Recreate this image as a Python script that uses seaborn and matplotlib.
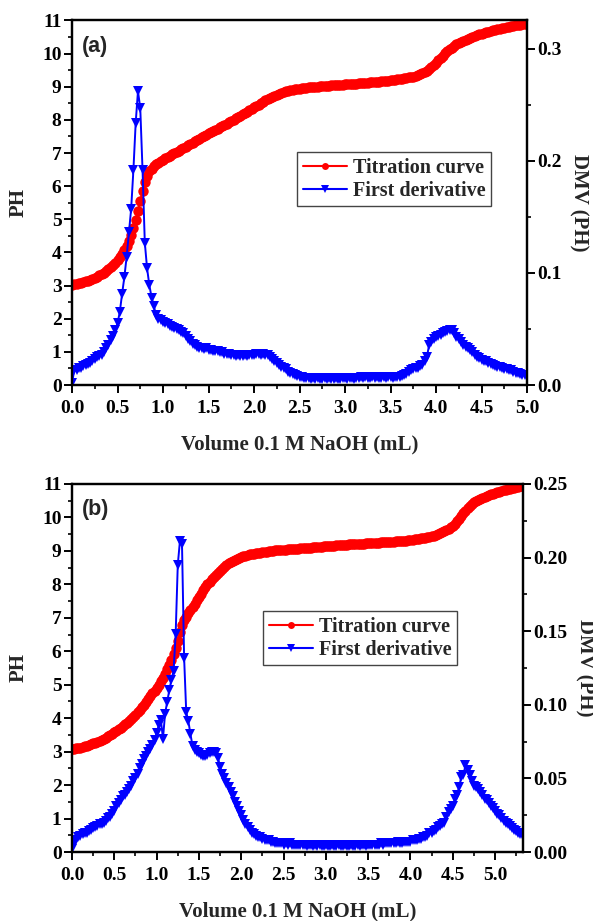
import numpy as np
import pandas as pd
import matplotlib
matplotlib.use("Agg")
import matplotlib.pyplot as plt
import seaborn as sns
from matplotlib.lines import Line2D
from matplotlib.ticker import MultipleLocator, FormatStrFormatter

# Titrant added between readings (mL)
STEP = 0.025

# (a) pH readings, one every STEP mL from 0.0 to 5.0 mL
ph_a = [
    3.03, 3.04, 3.05, 3.07, 3.09, 3.11, 3.13, 3.15,
    3.18, 3.21, 3.24, 3.27, 3.31, 3.35, 3.39, 3.44,
    3.49, 3.55, 3.61, 3.68, 3.76, 3.85, 3.95, 4.07,
    4.20, 4.36, 4.54, 4.75, 4.98, 5.25, 5.55, 5.85,
    6.12, 6.32, 6.45, 6.53, 6.60, 6.66, 6.71, 6.76,
    6.80, 6.84, 6.88, 6.92, 6.96, 6.99, 7.03, 7.07,
    7.11, 7.15, 7.19, 7.23, 7.27, 7.31, 7.35, 7.39,
    7.43, 7.47, 7.51, 7.55, 7.59, 7.63, 7.67, 7.71,
    7.74, 7.78, 7.82, 7.86, 7.89, 7.93, 7.97, 8.01,
    8.05, 8.09, 8.13, 8.17, 8.21, 8.25, 8.29, 8.33,
    8.38, 8.42, 8.46, 8.50, 8.55, 8.59, 8.63, 8.67,
    8.70, 8.73, 8.76, 8.79, 8.82, 8.84, 8.86, 8.88,
    8.90, 8.91, 8.92, 8.93, 8.94, 8.95, 8.96, 8.97,
    8.98, 8.98, 8.99, 9.00, 9.00, 9.01, 9.02, 9.02,
    9.03, 9.03, 9.04, 9.04, 9.05, 9.05, 9.06, 9.06,
    9.07, 9.07, 9.08, 9.08, 9.09, 9.09, 9.10, 9.10,
    9.11, 9.11, 9.12, 9.13, 9.13, 9.14, 9.15, 9.15,
    9.16, 9.17, 9.18, 9.18, 9.19, 9.20, 9.21, 9.22,
    9.23, 9.24, 9.25, 9.27, 9.28, 9.30, 9.31, 9.33,
    9.35, 9.38, 9.41, 9.45, 9.49, 9.54, 9.60, 9.66,
    9.73, 9.80, 9.87, 9.94, 10.01, 10.07, 10.13, 10.18,
    10.23, 10.28, 10.32, 10.36, 10.39, 10.42, 10.45, 10.48,
    10.51, 10.53, 10.56, 10.58, 10.60, 10.62, 10.64, 10.66,
    10.68, 10.70, 10.72, 10.73, 10.75, 10.76, 10.78, 10.79,
    10.81, 10.82, 10.83, 10.85, 10.86, 10.87, 10.88, 10.89,
    10.90,
]

# (a) first derivative of pH per reading
dmv_a = [
    0.002, 0.013, 0.013, 0.015, 0.015, 0.017, 0.018, 0.019,
    0.020, 0.021, 0.023, 0.025, 0.026, 0.027, 0.029, 0.033,
    0.036, 0.040, 0.044, 0.049, 0.055, 0.065, 0.081, 0.096,
    0.114, 0.136, 0.157, 0.192, 0.234, 0.262, 0.247, 0.192,
    0.127, 0.104, 0.089, 0.078, 0.070, 0.062, 0.059, 0.058,
    0.056, 0.055, 0.054, 0.053, 0.052, 0.051, 0.050, 0.049,
    0.047, 0.046, 0.044, 0.041, 0.039, 0.037, 0.036, 0.034,
    0.033, 0.033, 0.032, 0.033, 0.031, 0.031, 0.030, 0.030,
    0.030, 0.029, 0.029, 0.028, 0.028, 0.028, 0.027, 0.027,
    0.026, 0.027, 0.026, 0.026, 0.027, 0.026, 0.027, 0.027,
    0.027, 0.028, 0.028, 0.027, 0.028, 0.027, 0.027, 0.025,
    0.023, 0.021, 0.020, 0.018, 0.016, 0.015, 0.014, 0.012,
    0.011, 0.010, 0.009, 0.008, 0.007, 0.007, 0.006, 0.006,
    0.006, 0.005, 0.006, 0.005, 0.006, 0.005, 0.005, 0.006,
    0.005, 0.006, 0.005, 0.005, 0.006, 0.005, 0.005, 0.006,
    0.006, 0.005, 0.006, 0.006, 0.005, 0.006, 0.006, 0.007,
    0.006, 0.007, 0.006, 0.006, 0.007, 0.006, 0.007, 0.006,
    0.006, 0.007, 0.006, 0.007, 0.007, 0.006, 0.007, 0.007,
    0.007, 0.008, 0.009, 0.010, 0.012, 0.013, 0.014, 0.015,
    0.015, 0.017, 0.018, 0.021, 0.025, 0.036, 0.038, 0.041,
    0.043, 0.044, 0.045, 0.046, 0.047, 0.048, 0.049, 0.049,
    0.046, 0.043, 0.041, 0.038, 0.036, 0.034, 0.033, 0.031,
    0.029, 0.027, 0.025, 0.024, 0.022, 0.021, 0.021, 0.020,
    0.019, 0.018, 0.017, 0.016, 0.016, 0.015, 0.014, 0.014,
    0.013, 0.013, 0.012, 0.011, 0.011, 0.010, 0.009, 0.009,
    0.008,
]

# (b) pH readings, one every STEP mL from 0.0 to 5.325 mL
ph_b = [
    3.08, 3.09, 3.10, 3.11, 3.12, 3.14, 3.16, 3.18,
    3.20, 3.22, 3.25, 3.27, 3.30, 3.33, 3.36, 3.39,
    3.42, 3.46, 3.50, 3.54, 3.58, 3.62, 3.67, 3.72,
    3.77, 3.82, 3.87, 3.93, 3.99, 4.05, 4.11, 4.18,
    4.25, 4.32, 4.40, 4.48, 4.56, 4.65, 4.74, 4.82,
    4.90, 5.00, 5.10, 5.21, 5.33, 5.46, 5.60, 5.75,
    5.92, 6.10, 6.30, 6.58, 6.78, 6.92, 7.03, 7.13,
    7.23, 7.32, 7.42, 7.52, 7.62, 7.72, 7.82, 7.91,
    8.00, 8.08, 8.15, 8.22, 8.28, 8.35, 8.41, 8.47,
    8.53, 8.58, 8.63, 8.67, 8.71, 8.74, 8.77, 8.80,
    8.82, 8.84, 8.86, 8.88, 8.90, 8.91, 8.92, 8.93,
    8.94, 8.95, 8.96, 8.97, 8.98, 8.99, 9.00, 9.01,
    9.02, 9.02, 9.03, 9.03, 9.04, 9.04, 9.05, 9.05,
    9.06, 9.06, 9.07, 9.07, 9.08, 9.08, 9.09, 9.09,
    9.10, 9.10, 9.11, 9.11, 9.12, 9.12, 9.13, 9.14,
    9.14, 9.15, 9.15, 9.16, 9.16, 9.17, 9.17, 9.18,
    9.18, 9.19, 9.19, 9.20, 9.20, 9.20, 9.21, 9.21,
    9.22, 9.22, 9.22, 9.23, 9.23, 9.24, 9.24, 9.24,
    9.25, 9.25, 9.26, 9.26, 9.26, 9.27, 9.27, 9.28,
    9.28, 9.29, 9.29, 9.30, 9.30, 9.31, 9.31, 9.32,
    9.33, 9.34, 9.35, 9.36, 9.37, 9.38, 9.39, 9.40,
    9.42, 9.43, 9.45, 9.46, 9.48, 9.50, 9.53, 9.56,
    9.59, 9.62, 9.66, 9.70, 9.75, 9.81, 9.88, 9.96,
    10.04, 10.12, 10.20, 10.27, 10.34, 10.40, 10.45, 10.49,
    10.53, 10.56, 10.59, 10.62, 10.65, 10.67, 10.69, 10.71,
    10.73, 10.75, 10.77, 10.79, 10.81, 10.83, 10.85, 10.86,
    10.88, 10.89, 10.90, 10.92, 10.93, 10.94,
]

# (b) first derivative of pH per reading
dmv_b = [
    0.002, 0.006, 0.008, 0.010, 0.011, 0.012, 0.013, 0.013,
    0.014, 0.015, 0.016, 0.017, 0.018, 0.019, 0.019, 0.020,
    0.021, 0.023, 0.024, 0.026, 0.028, 0.031, 0.033, 0.035,
    0.038, 0.039, 0.041, 0.043, 0.045, 0.048, 0.050, 0.053,
    0.057, 0.060, 0.063, 0.065, 0.068, 0.070, 0.073, 0.076,
    0.081, 0.086, 0.090, 0.077, 0.094, 0.102, 0.110, 0.117,
    0.123, 0.148, 0.195, 0.211, 0.209, 0.132, 0.095, 0.089,
    0.080, 0.072, 0.069, 0.068, 0.067, 0.066, 0.065, 0.065,
    0.066, 0.067, 0.068, 0.068, 0.067, 0.064, 0.058, 0.053,
    0.050, 0.047, 0.044, 0.041, 0.038, 0.034, 0.031, 0.028,
    0.025, 0.022, 0.019, 0.017, 0.015, 0.013, 0.012, 0.011,
    0.010, 0.010, 0.009, 0.008, 0.008, 0.008, 0.007, 0.007,
    0.006, 0.006, 0.006, 0.006, 0.005, 0.006, 0.005, 0.006,
    0.005, 0.005, 0.005, 0.005, 0.005, 0.005, 0.005, 0.004,
    0.005, 0.005, 0.004, 0.005, 0.004, 0.005, 0.004, 0.004,
    0.005, 0.004, 0.004, 0.005, 0.004, 0.004, 0.005, 0.004,
    0.004, 0.005, 0.004, 0.004, 0.005, 0.004, 0.004, 0.005,
    0.004, 0.005, 0.005, 0.004, 0.005, 0.005, 0.005, 0.005,
    0.005, 0.005, 0.006, 0.005, 0.006, 0.006, 0.006, 0.006,
    0.006, 0.006, 0.007, 0.006, 0.006, 0.007, 0.007, 0.007,
    0.007, 0.008, 0.008, 0.008, 0.009, 0.009, 0.010, 0.010,
    0.011, 0.013, 0.013, 0.014, 0.015, 0.017, 0.018, 0.019,
    0.020, 0.024, 0.027, 0.029, 0.031, 0.036, 0.039, 0.044,
    0.051, 0.052, 0.059, 0.056, 0.052, 0.048, 0.045, 0.044,
    0.043, 0.041, 0.039, 0.036, 0.035, 0.033, 0.031, 0.030,
    0.028, 0.026, 0.025, 0.023, 0.021, 0.020, 0.019, 0.018,
    0.016, 0.015, 0.014, 0.013, 0.012, 0.011,
]

SERIES_LABELS = ["Titration curve", "First derivative"]
X_LABEL = "Volume 0.1 M NaOH (mL)"
Y_LABEL = "PH"
Y2_LABEL = "DMV (PH)"
PANEL_TAGS = ["(a)", "(b)"]

sns.set_theme(style="ticks")
plt.rcParams.update({
    "font.family": ["Liberation Serif", "DejaVu Serif"],
    "font.weight": "bold",
    "axes.labelweight": "bold",
    "axes.linewidth": 1.6,
    "axes.edgecolor": "black",
    "xtick.color": "black",
    "ytick.color": "black",
    "xtick.direction": "out",
    "ytick.direction": "out",
    "xtick.major.size": 5.5,
    "ytick.major.size": 5.5,
    "xtick.minor.size": 3,
    "ytick.minor.size": 3,
    "xtick.major.width": 1.4,
    "ytick.major.width": 1.4,
    "xtick.minor.width": 1.2,
    "ytick.minor.width": 1.2,
    "xtick.labelsize": 14,
    "ytick.labelsize": 14,
})

RED = "#ff0000"
BLUE = "#0000ff"

fig = plt.figure(figsize=(5.93, 9.21), dpi=100)

panels = [
    dict(tag=PANEL_TAGS[0], ph=ph_a, dmv=dmv_a,
         rect=[72 / 593, 1 - 385 / 921, 455 / 593, 364.5 / 921],
         xmax=5.0, dmv_max=0.325, dmv_major=0.1, dmv_minor=0.05, dmv_fmt="%.1f",
         legend_at=(0.4945, 0.639)),
    dict(tag=PANEL_TAGS[1], ph=ph_b, dmv=dmv_b,
         rect=[72 / 593, 1 - 852 / 921, 451 / 593, 368 / 921],
         xmax=5.33, dmv_max=0.25, dmv_major=0.05, dmv_minor=0.025, dmv_fmt="%.2f",
         legend_at=(0.4235, 0.655)),
]

for p in panels:
    volume = np.round(np.arange(len(p["ph"])) * STEP, 3)
    df = pd.DataFrame({"Volume": volume, "pH": p["ph"], "DMV": p["dmv"]})

    ax = fig.add_axes(p["rect"])
    sns.lineplot(data=df, x="Volume", y="pH", ax=ax, color=RED, linewidth=1.5,
                 marker="o", markersize=7.5, markeredgewidth=0,
                 markeredgecolor=RED, legend=False)
    ax2 = ax.twinx()
    sns.lineplot(data=df, x="Volume", y="DMV", ax=ax2, color=BLUE, linewidth=1.4,
                 marker="v", markersize=7.5, markeredgewidth=0,
                 markeredgecolor=BLUE, legend=False)

    ax.set_xlim(0, p["xmax"])
    ax.set_ylim(0, 11)
    ax2.set_ylim(0, p["dmv_max"])

    ax.xaxis.set_major_locator(MultipleLocator(0.5))
    ax.xaxis.set_minor_locator(MultipleLocator(0.25))
    ax.xaxis.set_major_formatter(FormatStrFormatter("%.1f"))
    ax.yaxis.set_major_locator(MultipleLocator(1))
    ax.yaxis.set_minor_locator(MultipleLocator(0.5))
    ax2.yaxis.set_major_locator(MultipleLocator(p["dmv_major"]))
    ax2.yaxis.set_minor_locator(MultipleLocator(p["dmv_minor"]))
    ax2.yaxis.set_major_formatter(FormatStrFormatter(p["dmv_fmt"]))

    ax.tick_params(which="both", top=False, right=False)
    ax.tick_params(axis="x", pad=5)
    ax.tick_params(axis="y", pad=2)
    ax2.tick_params(which="both", top=False, left=False, pad=2)

    for a in (ax, ax2):
        for s in a.spines.values():
            s.set_visible(True)
            s.set_linewidth(1.6)

    ax.set_xlabel(X_LABEL, fontsize=15, fontweight="bold", labelpad=13)
    ax.set_ylabel(Y_LABEL, fontsize=15, fontweight="bold", labelpad=10)
    ax2.set_ylabel(Y2_LABEL, fontsize=15, fontweight="bold", rotation=270,
                   labelpad=19)

    ax.text(0.022, 0.93, p["tag"], transform=ax.transAxes,
            family=["Liberation Sans", "DejaVu Sans"], fontweight="bold",
            fontsize=15.5, va="center", ha="left")

    handles = [
        Line2D([], [], color=RED, lw=1.5, marker="o", markersize=5,
               markeredgewidth=0),
        Line2D([], [], color=BLUE, lw=1.5, marker="v", markersize=5.5,
               markeredgewidth=0),
    ]
    leg = ax2.legend(handles, SERIES_LABELS, loc="upper left",
                     bbox_to_anchor=p["legend_at"], borderaxespad=0,
                     frameon=True, fancybox=False, framealpha=1,
                     edgecolor="#444444", handlelength=2.2,
                     handletextpad=0.3, labelspacing=0.15, borderpad=0.28,
                     prop={"family": "Liberation Serif", "weight": "bold",
                           "size": 14.5})
    leg.get_frame().set_linewidth(1.0)

fig.savefig("out.png", dpi=100)
